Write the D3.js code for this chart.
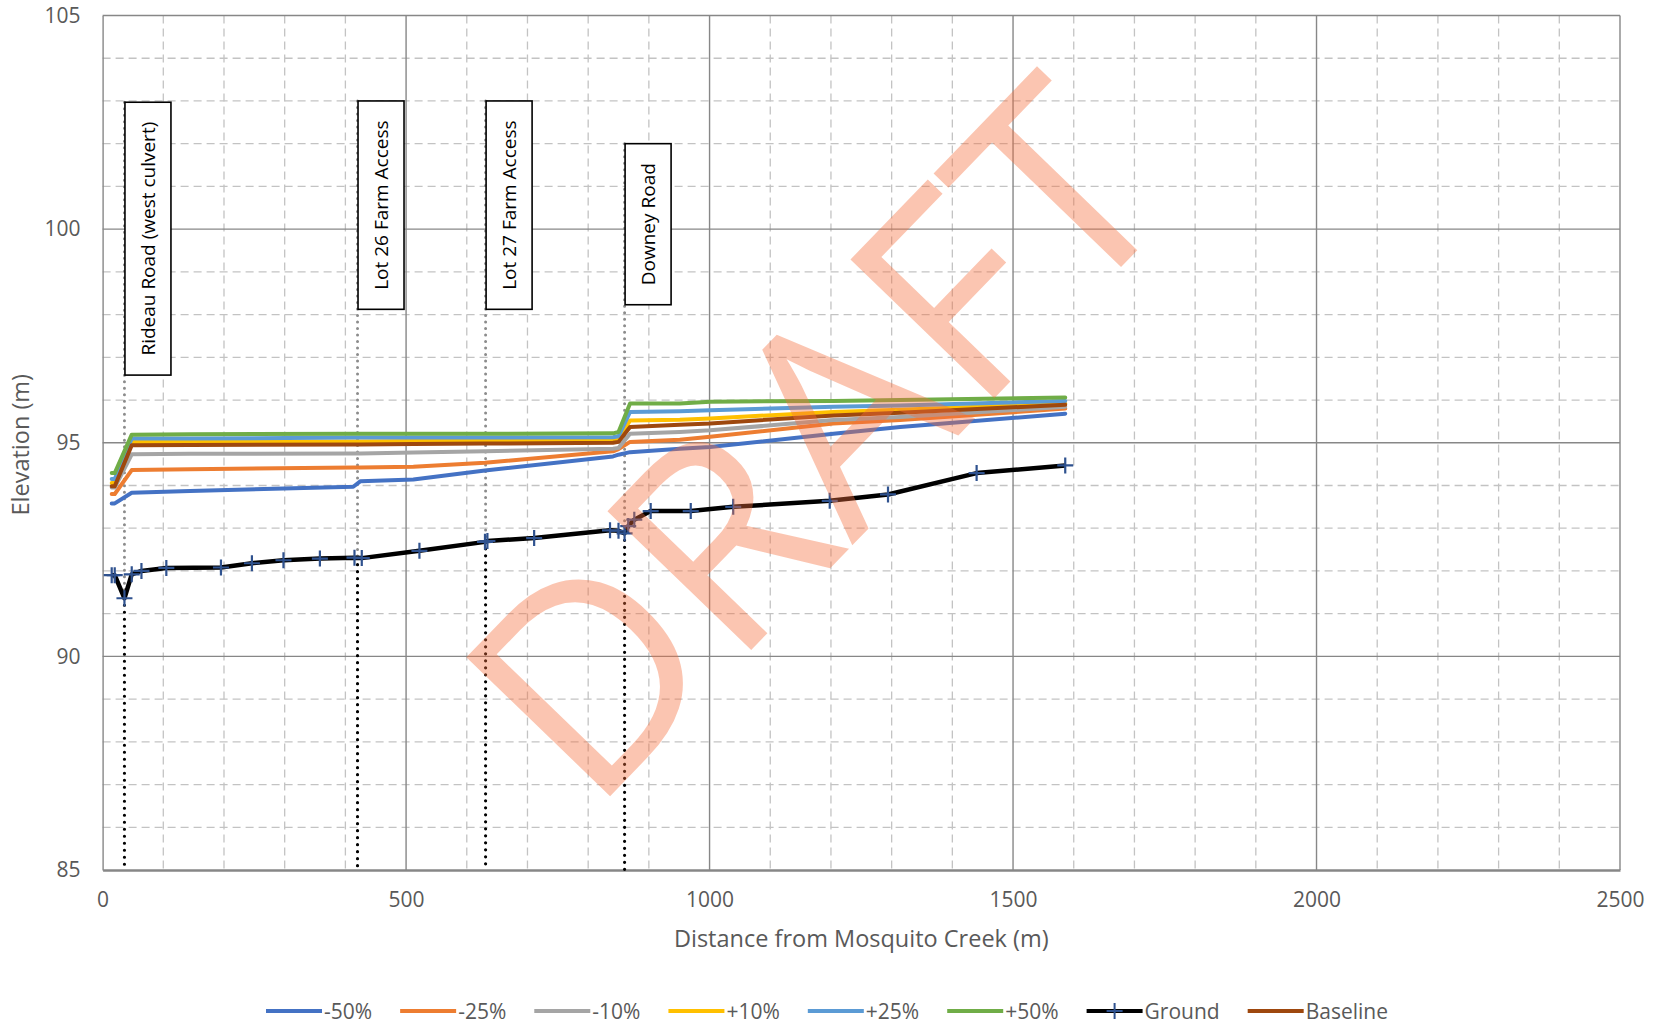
<!DOCTYPE html>
<html><head><meta charset="utf-8">
<script src="https://cdn.jsdelivr.net/npm/d3@7"></script>
<style>body{margin:0;background:#fff} text{font-family:"Open Sans",sans-serif}</style>
</head><body><svg id="c" width="1658" height="1027"></svg>
<script>
// ---------- data ----------
const stations = [15, 20, 48, 144, 413, 425, 512, 630, 841, 850, 869, 951, 1001, 1204, 1314, 1586];
const seriesNames = ["-50%", "-25%", "-10%", "+10%", "+25%", "+50%", "Baseline"];
const minus50 = [93.58, 93.58, 93.83, 93.87, 93.97, 94.10, 94.14, 94.35, 94.68, 94.72, 94.78, 94.86, 94.90, 95.21, 95.37, 95.68];
const minus25 = [93.80, 93.80, 94.36, 94.38, 94.42, 94.42, 94.44, 94.53, 94.80, 94.85, 95.02, 95.07, 95.14, 95.45, 95.53, 95.80];
const minus10 = [93.95, 93.95, 94.73, 94.74, 94.75, 94.75, 94.77, 94.80, 94.86, 94.88, 95.21, 95.25, 95.29, 95.53, 95.60, 95.84];
const plus10  = [94.06, 94.06, 95.02, 95.02, 95.03, 95.03, 95.04, 95.05, 95.06, 95.08, 95.52, 95.54, 95.57, 95.72, 95.77, 95.92];
const plus25  = [94.15, 94.15, 95.10, 95.10, 95.12, 95.12, 95.12, 95.12, 95.13, 95.15, 95.72, 95.74, 95.76, 95.84, 95.87, 95.98];
const plus50  = [94.29, 94.29, 95.19, 95.20, 95.21, 95.21, 95.21, 95.21, 95.22, 95.25, 95.92, 95.92, 95.96, 95.98, 96.00, 96.06];
const baseline= [93.98, 93.98, 94.94, 94.95, 94.96, 94.96, 94.97, 94.98, 95.00, 95.02, 95.37, 95.42, 95.45, 95.64, 95.70, 95.89];

const groundX = [15, 20, 36, 48, 64, 105, 195, 246, 298, 358, 415, 427, 522, 630, 634, 711, 836, 850, 860, 866, 876, 903, 969, 1039, 1198, 1294, 1440, 1586];
const groundY = [91.90, 91.90, 91.36, 91.92, 92.00, 92.07, 92.08, 92.18, 92.25, 92.29, 92.31, 92.30, 92.47, 92.68, 92.70, 92.77, 92.95, 92.94, 92.88, 93.05, 93.20, 93.40, 93.40, 93.50, 93.64, 93.79, 94.29, 94.47];

const structures = ["Rideau Road (west culvert)", "Lot 26 Farm Access", "Lot 27 Farm Access", "Downey Road"];
const structureX = [36, 420, 631, 860];
const structureTop = [102.97, 103.0, 103.0, 102.0];
const structureGround = [91.36, 92.31, 92.68, 92.88];

const xTicks = [0, 500, 1000, 1500, 2000, 2500];
const yTicks = [85, 90, 95, 100, 105];
const legendNames = ["-50%", "-25%", "-10%", "+10%", "+25%", "+50%", "Ground", "Baseline"];
const colors = {"-50%":"#4472C4","-25%":"#ED7D31","-10%":"#A5A5A5","+10%":"#FFC000","+25%":"#5B9BD5","+50%":"#70AD47","Ground":"#000000","Baseline":"#9E480E"};
const xTitle = "Distance from Mosquito Creek (m)";
const yTitle = "Elevation (m)";
const watermark = "DRAFT";

// ---------- chart ----------
const svg = d3.select("#c");
const L = 102.6, R = 1620, T = 15.5, B = 870;
const x = d3.scaleLinear().domain([0, 2500]).range([L, R]);
const y = d3.scaleLinear().domain([85, 105]).range([B, T]);

const grid = svg.append("g");
grid.selectAll(".mx").data(d3.range(100, 2500, 100).filter(v => v % 500 !== 0)).enter().append("line")
  .attr("x1", d => x(d)).attr("x2", d => x(d)).attr("y1", T).attr("y2", B)
  .attr("stroke", "#C3C3C3").attr("stroke-width", 1.3).attr("stroke-dasharray", "8,5");
grid.selectAll(".my").data(d3.range(86, 105, 1).filter(v => v % 5 !== 0)).enter().append("line")
  .attr("y1", d => y(d)).attr("y2", d => y(d)).attr("x1", L).attr("x2", R)
  .attr("stroke", "#C3C3C3").attr("stroke-width", 1.3).attr("stroke-dasharray", "8,5");
grid.selectAll(".Mx").data(xTicks.slice(1)).enter().append("line")
  .attr("x1", d => x(d)).attr("x2", d => x(d)).attr("y1", T).attr("y2", B)
  .attr("stroke", "#878787").attr("stroke-width", 1.4);
grid.selectAll(".My").data(yTicks.slice(1)).enter().append("line")
  .attr("y1", d => y(d)).attr("y2", d => y(d)).attr("x1", L).attr("x2", R)
  .attr("stroke", "#878787").attr("stroke-width", 1.4);

const xAxis = d3.axisBottom(x).tickValues(xTicks).tickSize(0).tickPadding(22).tickFormat(d3.format("d"));
const gx = svg.append("g").attr("transform", `translate(0,${B})`).call(xAxis);
gx.select(".domain").attr("stroke", "#878787").attr("stroke-width", 2.5);
gx.selectAll("text").attr("font-size", 21).attr("fill", "#595959").attr("font-family", "Open Sans");
const yAxis = d3.axisLeft(y).tickValues(yTicks).tickSize(0).tickPadding(22).tickFormat(d3.format("d"));
const gy = svg.append("g").attr("transform", `translate(${L},0)`).call(yAxis);
gy.select(".domain").attr("stroke", "#878787").attr("stroke-width", 1.4);
gy.selectAll("text").attr("font-size", 21).attr("fill", "#595959").attr("font-family", "Open Sans");

svg.append("text").attr("x", (L + R) / 2).attr("y", 947).attr("text-anchor", "middle")
  .attr("font-size", 23.5).attr("fill", "#595959").text(xTitle);
svg.append("text").attr("transform", `translate(29,${y(95) + 2}) rotate(-90)`).attr("text-anchor", "middle")
  .attr("font-size", 23.5).attr("fill", "#595959").text(yTitle);

// structure annotations
const ann = svg.append("g");
structures.forEach((name, i) => {
  const sx = x(structureX[i]);
  const top = y(structureTop[i]);
  const t = ann.append("text").attr("font-size", 19).attr("fill", "#000").text(name);
  const len = t.node().getComputedTextLength();
  const h = len + 39, w = 46;
  ann.insert("line", "text").attr("x1", sx).attr("x2", sx).attr("y1", top).attr("y2", y(structureGround[i]))
    .attr("stroke", "#8C8C8C").attr("stroke-width", 3).attr("stroke-linecap", "round").attr("stroke-dasharray", "0,6.5");
  ann.insert("line", "text").attr("x1", sx).attr("x2", sx).attr("y1", y(structureGround[i])).attr("y2", B)
    .attr("stroke", "#000").attr("stroke-width", 3.2).attr("stroke-linecap", "round").attr("stroke-dasharray", "0,7");
  ann.insert("rect", "text").attr("x", sx + 0.5).attr("y", top).attr("width", w).attr("height", h)
    .attr("fill", "#fff").attr("stroke", "#000").attr("stroke-width", 1.6);
  t.attr("text-anchor", "middle").attr("dominant-baseline", "central")
    .attr("transform", `translate(${sx + 0.5 + w / 2},${top + h / 2}) rotate(-90)`);
});

// water surface series
const waterSeries = [minus50, minus25, minus10, plus10, plus25, plus50];
const line = d3.line().x(d => x(d[0])).y(d => y(d[1]));
const lines = svg.append("g");
waterSeries.forEach((vals, i) => {
  lines.append("path").datum(stations.map((s, j) => [s, vals[j]]))
    .attr("d", line).attr("fill", "none").attr("stroke", colors[seriesNames[i]])
    .attr("stroke-width", 4).attr("stroke-linejoin", "round").attr("stroke-linecap", "round");
});
const gData = groundX.map((g, j) => [g, groundY[j]]);
lines.append("path").datum(gData).attr("d", line).attr("fill", "none").attr("stroke", "#000")
  .attr("stroke-width", 4.5).attr("stroke-linejoin", "round");
const plus = "M-8,0H8M0,-8V8";
lines.selectAll(".gm").data(gData).enter().append("path")
  .attr("d", plus).attr("transform", d => `translate(${x(d[0])},${y(d[1])})`)
  .attr("stroke", "#2F528F").attr("stroke-width", 2.2).attr("fill", "none");
lines.append("path").datum(stations.map((s, j) => [s, baseline[j]]))
  .attr("d", line).attr("fill", "none").attr("stroke", colors["Baseline"])
  .attr("stroke-width", 4).attr("stroke-linejoin", "round").attr("stroke-linecap", "round");

// watermark
svg.append("text").attr("transform", "translate(815,440) rotate(-46)")
  .attr("text-anchor", "middle").attr("y", 100).attr("font-size", 280).attr("font-weight", 400)
  .attr("fill", "rgb(245,110,60)").attr("fill-opacity", 0.4).text(watermark);

// legend
const leg = svg.append("g");
let cx = 0;
legendNames.forEach(n => {
  const g = leg.append("g").attr("transform", `translate(${cx},0)`);
  g.append("line").attr("x1", 0).attr("x2", 56).attr("y1", 0).attr("y2", 0)
    .attr("stroke", colors[n]).attr("stroke-width", 4);
  if (n === "Ground") g.append("path").attr("d", plus).attr("transform", "translate(28,0)")
    .attr("stroke", "#2F528F").attr("stroke-width", 2);
  const t = g.append("text").attr("x", 58).attr("y", 0).attr("dominant-baseline", "central")
    .attr("font-size", 21).attr("fill", "#595959").text(n);
  cx += 58 + t.node().getComputedTextLength() + 28;
});
const total = cx - 28;
leg.attr("transform", `translate(${827 - total / 2},1011)`);
</script></body></html>
